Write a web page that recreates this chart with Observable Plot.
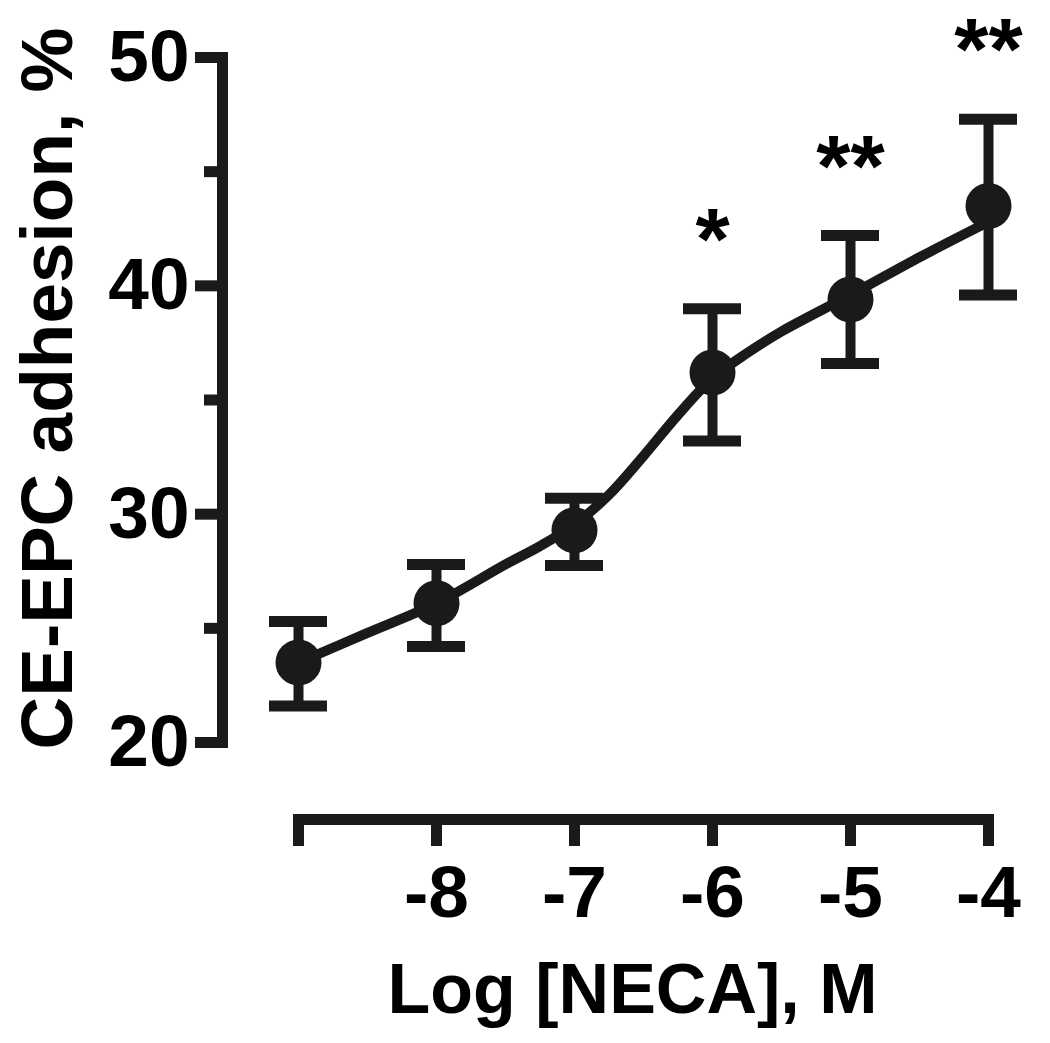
<!DOCTYPE html>
<html>
<head>
<meta charset="utf-8">
<script src="https://cdn.jsdelivr.net/npm/d3@7"></script>
<script src="https://cdn.jsdelivr.net/npm/@observablehq/plot@0.6"></script>
<style>
  html, body { margin: 0; padding: 0; background: #fff; }
</style>
</head>
<body>
<div id="chart"></div>
<script>
// Data
const logNECA = [-9, -8, -7, -6, -5, -4];
const adhesionMean = [23.5, 26.1, 29.3, 36.2, 39.4, 43.5];
const errLow = [21.6, 24.2, 27.75, 33.2, 36.6, 39.6];
const errHigh = [25.3, 27.8, 30.7, 39.0, 42.2, 47.3];
const significance = ["", "", "", "*", "**", "**"];
// fitted curve
const fitX = [-9, -8.5, -8, -7.5, -7.25, -7, -6.75, -6.5, -6.25, -6, -5.75, -5.5, -5, -4.5, -4];
const fitY = [23.5, 24.8, 26.1, 27.8, 28.6, 29.55, 30.85, 32.55, 34.35, 35.95, 37.05, 38.0, 39.6, 41.25, 42.8];
const xTickLabels = ["", "-8", "-7", "-6", "-5", "-4"];
const yMajorTicks = [20, 30, 40, 50];
const yMinorTicks = [25, 35, 45];
const xTitle = "Log [NECA], M";
const yTitle = "CE-EPC adhesion, %";

const rows = logNECA.map((x, i) => ({x, y: adhesionMean[i], lo: errLow[i], hi: errHigh[i], sig: significance[i]}));
const starred = rows.filter(d => d.sig !== "");
const fit = fitX.map((x, i) => ({x, y: fitY[i]}));

const ink = "#1a1a1a";
const font = "'Liberation Sans', Arial, Helvetica, sans-serif";

const chart = Plot.plot({
  width: 1050,
  height: 1043,
  marginLeft: 222,
  marginRight: 62,
  marginTop: 57,
  marginBottom: 224,
  style: {fontFamily: font, fontWeight: "bold", color: ink, background: "#fff"},
  x: {domain: [-9, -4], range: [298, 988], axis: null},
  y: {domain: [20, 50], range: [742, 57], axis: null},
  marks: [
    // axis lines
    Plot.frame({anchor: "left", insetBottom: 77, strokeWidth: 11, strokeLinecap: "square", stroke: ink}),
    Plot.frame({anchor: "bottom", insetLeft: 76, strokeWidth: 11, strokeLinecap: "square", stroke: ink}),
    // y axis
    Plot.axisY({anchor: "left", ticks: yMajorTicks, tickSize: 27, tickPadding: 6, strokeWidth: 11, stroke: ink,
      fontSize: 73, fill: "#000", label: null, tickFormat: d => String(d)}),
    Plot.axisY({anchor: "left", ticks: yMinorTicks, tickSize: 18, strokeWidth: 11, stroke: ink, text: null, label: null}),
    // x axis
    Plot.axisX({anchor: "bottom", ticks: logNECA, tickSize: 27, tickPadding: 19, strokeWidth: 11, stroke: ink,
      fontSize: 73, fill: "#000", label: null, tickFormat: (d, i) => xTickLabels[logNECA.indexOf(d)]}),
    // axis titles
    Plot.text([yTitle], {frameAnchor: "left", rotate: -90, dx: -151, dy: -50, lineAnchor: "bottom", textAnchor: "middle",
      fontSize: 73, fill: "#000", text: d => d}),
    Plot.text([xTitle], {frameAnchor: "bottom", dx: 27, dy: 193, lineAnchor: "bottom", textAnchor: "middle",
      fontSize: 70, fill: "#000", text: d => d}),
    // fitted curve
    Plot.line(fit, {x: "x", y: "y", curve: "catmull-rom", stroke: ink, strokeWidth: 10}),
    // error bars
    Plot.ruleX(rows, {x: "x", y1: "lo", y2: "hi", stroke: ink, strokeWidth: 10}),
    Plot.ruleY(rows, {x1: "x", x2: "x", y: "hi", insetLeft: -29, insetRight: -29, stroke: ink, strokeWidth: 11}),
    Plot.ruleY(rows, {x1: "x", x2: "x", y: "lo", insetLeft: -29, insetRight: -29, stroke: ink, strokeWidth: 11}),
    // means
    Plot.dot(rows, {x: "x", y: "y", r: 23, fill: ink, stroke: "none"}),
    // significance stars
    Plot.text(starred, {x: "x", y: "hi", text: "sig", dy: -40, lineAnchor: "bottom", fontSize: 88, fill: "#000"})
  ]
});
document.getElementById("chart").appendChild(chart);
</script>
</body>
</html>
